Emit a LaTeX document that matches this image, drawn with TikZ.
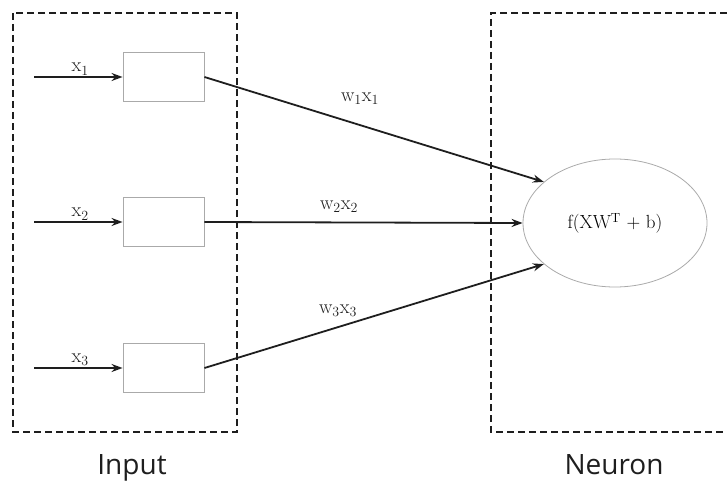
\documentclass[tikz,border=0pt]{standalone}
\usepackage{fontspec}
\newfontfamily\labelfont{Open Sans}
\usetikzlibrary{positioning}
\usetikzlibrary{arrows.meta}
\usetikzlibrary{shapes.geometric}
\definecolor{darkline}{RGB}{30,30,30}
\definecolor{lightline}{RGB}{170,170,170}
\tikzset {
  % dashed frames for the two groups
  frame/.style = {draw=darkline, line width=1.6pt, dash pattern=on 7pt off 4pt},
  % input cells
  cell/.style = {draw=lightline, line width=0.9pt, minimum width=81pt, minimum height=49pt, inner sep=0pt},
  % the neuron itself
  neuron/.style = {draw=lightline, line width=0.8pt, ellipse, minimum width=184pt, minimum height=128pt, inner sep=0pt},
  % weighted connections
  link/.style = {darkline, line width=1.8pt, -{Stealth[length=11pt, width=8pt]}},
  lbl/.style = {font=\fontsize{20}{24}\selectfont, text=darkline, inner sep=1pt},
  caption/.style = {font=\labelfont\fontsize{28}{32}\selectfont, text=darkline},
}
\newcommand{\sub}[2]{#1\textsubscript{#2}}

\begin{document}
\begin{tikzpicture}[x=1pt, y=-1pt]
        \useasboundingbox (0,0) rectangle (727,484);
        \clip (0,0) rectangle (727,484);

        % frames
        \draw[frame] (13,13) rectangle (237,432);
        \draw[frame] (760,13) -- (491,13) -- (491,432) -- (760,432);
        \node[caption] (in) at (132,468) {Input};
        \node[caption] (ne) at (614,465) {Neuron};

        % input cells
        \node[cell] (c1) at (163.5,77) {};
        \node[cell] (c2) at (163.5,222) {};
        \node[cell] (c3) at (163.5,368) {};
        \coordinate (s1) at (34,77);
        \coordinate (s2) at (34,222);
        \coordinate (s3) at (34,368);

        \node[neuron] (f) at (615,223) {\fontsize{19}{22}\selectfont f(XW\textsuperscript{T} + b)};

        \draw[link] (s1) -- node[lbl, above, xshift=2pt] {\sub{x}{1}} (c1);
        \draw[link] (s2) -- node[lbl, above, xshift=2pt] {\sub{x}{2}} (c2);
        \draw[link] (s3) -- node[lbl, above, xshift=2pt] {\sub{x}{3}} (c3);

        \draw[link] (c1.east) -- (f.150);
        \draw[link] (c2.east) -- (f.west);
        \draw[link] (c3.east) -- (f.210);
        \node[lbl] (l1) at (360,99) {\sub{w}{1}\sub{x}{1}};
        \node[lbl] (l2) at (339,207) {\sub{w}{2}\sub{x}{2}};
        \node[lbl] (l3) at (338,311) {\sub{w}{3}\sub{x}{3}};
      \end{tikzpicture}
\end{document}
